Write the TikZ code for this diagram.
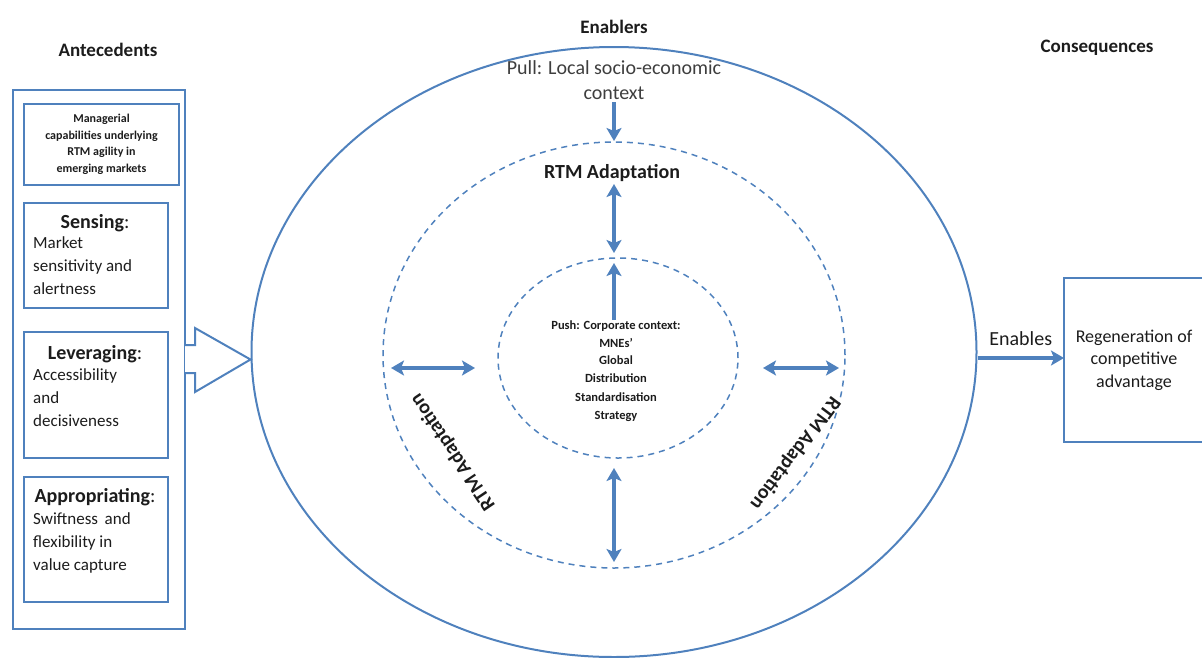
\documentclass[tikz,border=0pt]{standalone}
\usepackage{fontspec}
\setmainfont{Carlito}
\usepackage{tikz}
\usetikzlibrary{arrows.meta}
\usetikzlibrary{shapes}
\definecolor{rtmblue}{HTML}{4F81BD}
\definecolor{ink}{HTML}{1C1C1C}
\newcommand{\fsz}[2]{\fontsize{#1}{#2}\selectfont}
\newcommand{\capbox}[5]{\node[draw=rtmblue, line width=2pt, minimum width=#4, minimum height=#5, inner sep=0pt] (#1) at ( #2 , #3 ) {};}
\newcommand{\capbody}[4]{\node[text=ink, font=\fsz{17}{23}, align=left, anchor=north west, inner sep=0pt] (#1) at ( #2 , #3 ) {#4};}
\newcommand{\caphead}[4]{\node[text=ink, font=\fsz{20}{24}, inner sep=0pt] (#1) at ( #2 , #3 ) {#4};}
\tikzset{
  title/.style={text=ink, font=\fsz{19}{23}\bfseries},
  ringline/.style={draw=rtmblue, line width=2pt, ellipse, inner sep=0pt},
  dashring/.style={draw=rtmblue, line width=1.5pt, dash pattern=on 6pt off 5pt, ellipse, inner sep=0pt},
  onearrow/.style={rtmblue, line width=3.4pt, -{Stealth[length=13pt,width=15pt,inset=3pt]}},
  twoarrow/.style={rtmblue, line width=3.4pt, {Stealth[length=13pt,width=15pt,inset=3pt]}-{Stealth[length=13pt,width=15pt,inset=3pt]}},
}

\begin{document}
\begin{tikzpicture}[x=1pt,y=-1pt]
  \useasboundingbox (0,0) rectangle (1202,657);

  % column titles
  \node[title] (antT) at (108,50) {Antecedents};
  \node[title] (enaT) at (614,27) {Enablers};
  \node[title] (conT) at (1097,48) {Consequences};

  % antecedents
  \capbox{ante}{99}{359.5}{172}{539}
  \capbox{mgr}{101.5}{144.5}{155}{81}
  \node[text=ink, font=\fsz{12}{16.5}\bfseries, align=center] (mgrT) at (101.5,144.5)
    {Managerial\\capabilities underlying\\RTM agility in\\emerging markets};

  \capbox{sense}{96}{255.5}{144}{105}
  \caphead{senseH}{95}{223}{\textbf{Sensing}:}
  \capbody{senseB}{33}{236}{Market\\sensitivity and\\alertness}

  \capbox{lever}{96}{395}{144}{126}
  \caphead{leverH}{95}{354}{\textbf{Leveraging}:}
  \capbody{leverB}{33}{368}{Accessibility\\and\\decisiveness}

  \capbox{approp}{96}{539.5}{144}{125}
  \caphead{appropH}{95}{497}{\textbf{Appropriating}:}
  \capbody{appropB}{33}{512}{Swiftness\,\ and\\flexibility in\\value capture}

  % enablers
  \node[ringline, minimum width=725, minimum height=610] (enab) at (614,352) {};
  \node[dashring, minimum width=462, minimum height=426] (ring) at (614,355) {};
  \node[dashring, minimum width=240, minimum height=200] (core) at (618,358) {};

  % block arrow into the enablers
  \coordinate (tip) at (enab.west |- ante.east);
  \draw[draw=rtmblue, line width=2pt, fill=white, line join=miter]
    (185,345) -- (195,345) -- (195,328) -- (tip) -- (195,392) -- (195,373) -- (185,373);

  \node[text=ink!85, font=\fsz{20}{25}, align=center] (pull) at (614,80)
    {Pull: Local socio-economic\\context};
  \node[text=ink, font=\fsz{20}{24}\bfseries] (rtmT) at (612,173) {RTM Adaptation};
  \node[text=ink, font=\fsz{12.5}{17.5}\bfseries, align=center] (push) at (616,371)
    {Push: Corporate context:\\MNEs'\\Global\\Distribution\\[2pt]Standardisation\\Strategy};
  \node[text=ink, font=\fsz{20}{24}\bfseries, rotate=124] (rtmL) at (453,452) {RTM Adaptation};
  \node[text=ink, font=\fsz{20}{24}\bfseries, rotate=-127] (rtmR) at (795,453) {RTM Adaptation};

  \coordinate (pullE) at (614,141);
  \coordinate (topA) at (614,184);
  \coordinate (topB) at (614,253);
  \coordinate (pushS) at (614,320);
  \coordinate (pushE) at (614,263);
  \coordinate (leftA) at (391,368);
  \coordinate (leftB) at (475,368);
  \coordinate (rightA) at (763,368);
  \coordinate (rightB) at (839,368);
  \coordinate (botA) at (614,468);
  \coordinate (botB) at (614,562);

  \draw[onearrow] (614,102) -- (pullE);
  \draw[twoarrow] (topA) -- (topB);
  \draw[onearrow] (pushS) -- (pushE);
  \draw[twoarrow] (leftA) -- (leftB);
  \draw[twoarrow] (rightA) -- (rightB);
  \draw[twoarrow] (botA) -- (botB);

  % consequences
  \coordinate (regL) at (1064,358);
  \draw[draw=rtmblue, line width=2pt] (1202,278) -- (1064,278) -- (1064,442) -- (1202,442);
  \node[text=ink, font=\fsz{18}{22.5}, align=center] (regen) at (1134,360)
    {Regeneration of\\competitive\\advantage};
  \draw[onearrow] (enab.east |- regL) -- node[above=7pt, text=ink, font=\fsz{20}{24}] (enT) {Enables} (regL);
\end{tikzpicture}
\end{document}
